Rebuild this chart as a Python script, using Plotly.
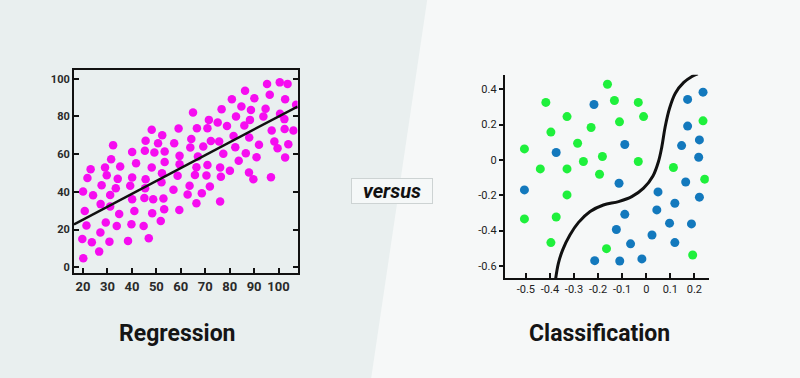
import plotly.graph_objects as go

# ---------------- data ----------------
reg_x = [20, 20.7, 19.7, 20.1, 21.4, 21.8, 23.1, 24.1, 23.6, 26.6, 27.1, 27.2, 27.6, 29, 29.7, 29.3,
         30.8, 31.1, 31.1, 31.5, 32.3, 33.4, 33.8, 34.2, 34.8, 35.2, 38.4, 39.3, 39.8, 40.1, 40.1,
         40.1, 41, 41.7, 44.8, 45.1, 45.4, 45.6, 45.3, 45.6, 46.9, 48.1, 48.1, 48.7, 48.3, 49.2,
         50.7, 51.8, 52.1, 52.3, 52.4, 52.9, 53.2, 53.4, 53.4, 57.3, 57, 58.7, 59.1, 59.5, 59.5,
         59.4, 62.8, 63.6, 63.9, 64.3, 65, 65.8, 66.4, 66.4, 66.6, 67, 68.6, 69.2, 70.5, 70.9,
         70.9, 71.5, 71.9, 72.3, 75.1, 75.7, 76.1, 76.1, 76.4, 76.7, 77.4, 78.9, 80.1, 80.9, 81.6,
         82.3, 82.6, 83.7, 84.8, 86, 86.3, 86.6, 87.9, 88, 88.3, 88.7, 89.7, 90.1, 91, 92, 93.8,
         94.7, 95.3, 96.4, 96.9, 97.2, 98.3, 99.6, 100.5, 100.6, 102.4, 102.7, 102.5, 102.7,
         103.7, 104, 106.1, 107.2]
reg_y = [40.2, 29.9, 15, 4.8, 22.1, 47.3, 52, 38.2, 13.3, 8.3, 18.4, 33.5, 43.5, 52.9, 48.8, 23.7,
         13.6, 32.2, 38.4, 57.3, 64.8, 41.9, 21.9, 46.9, 28.3, 53.5, 14, 43.2, 22.8, 61.1, 47.6,
         36.1, 29.9, 55.2, 21.9, 36.8, 41.9, 46.7, 61.8, 67.1, 15.4, 72.9, 52.9, 36.1, 28.7, 60.9,
         65.8, 24.6, 45.1, 49.9, 70.1, 36.5, 30.8, 55.8, 61.4, 65.8, 41.1, 48.5, 73.6, 59.1, 54.7,
         30.4, 38.6, 43.2, 63.5, 68.1, 82.1, 49, 34, 53.1, 73.8, 58.8, 39.3, 64.1, 48.7, 54.2,
         73.8, 78.2, 42.8, 67, 76.8, 66.7, 52.9, 34.9, 48, 83.9, 60.2, 75, 51.2, 89.2, 69.7,
         63.7, 80, 56.5, 85.3, 75.2, 93.6, 60.5, 50.3, 68.8, 78.2, 83.5, 46.7, 89.7, 58.4, 65, 80,
         84.1, 97.2, 91.5, 47.8, 72.6, 66.7, 63.2, 98.1, 81.4, 78.6, 89.2, 73.3, 58.2,
         97.3, 65.3, 72.6, 86.2]
reg_line_x = [16.3, 107.8]
reg_line_y = [22.8, 85.3]
reg_ticks_x = [20, 30, 40, 50, 60, 70, 80, 90, 100]
reg_ticks_y = [0, 20, 40, 60, 80, 100]

green_x = [-0.161, -0.417, -0.132, -0.033, -0.329, -0.011, -0.111, -0.229, -0.396, -0.506, -0.285,
           -0.182, -0.261, -0.033, -0.440, -0.329, -0.194, 0.113, 0.243, 0.236, -0.329, -0.506,
           -0.374, -0.396, -0.165, 0.193]
green_y = [0.428, 0.325, 0.336, 0.325, 0.245, 0.245, 0.215, 0.183, 0.157, 0.062, 0.094, 0.019,
           -0.009, -0.009, -0.051, -0.051, -0.081, -0.043, -0.109, 0.221, -0.198, -0.334, -0.323,
           -0.468, -0.502, -0.538]
blue_x = [-0.217, 0.236, 0.172, 0.172, 0.221, 0.147, -0.089, -0.374, 0.218, -0.113, 0.164, -0.506,
          0.049, 0.221, 0.119, 0.044, -0.089, 0.097, 0.188, -0.124, 0.024, -0.065, 0.119, -0.214,
          -0.110, -0.018]
blue_y = [0.313, 0.383, 0.342, 0.191, 0.113, 0.081, 0.087, 0.042, 0.015, -0.132, -0.125, -0.170,
          -0.181, -0.211, -0.245, -0.283, -0.308, -0.358, -0.362, -0.394, -0.425, -0.475, -0.468,
          -0.570, -0.572, -0.560]
boundary_x = [-0.376, -0.365, -0.347, -0.317, -0.282, -0.233, -0.178, -0.115, -0.060, -0.011,
              0.028, 0.051, 0.065, 0.079, 0.097, 0.121, 0.156, 0.190, 0.214]
boundary_y = [-0.670, -0.585, -0.509, -0.425, -0.355, -0.292, -0.255, -0.236, -0.208, -0.160,
              -0.091, -0.009, 0.075, 0.189, 0.292, 0.377, 0.438, 0.472, 0.487]
cls_ticks_x = [-0.5, -0.4, -0.3, -0.2, -0.1, 0, 0.1, 0.2]
cls_ticklabels_x = ["-0.5", "-0.4", "-0.3", "-0.2", "-0.1", "0", "0.1", "0.2"]
cls_ticks_y = [0.4, 0.2, 0, -0.2, -0.4, -0.6]
cls_ticklabels_y = ["0.4", "0.2", "0", "-0.2", "-0.4", "-0.6"]

# ---------------- figure ----------------
MAGENTA = "#f60cf0"
GREEN = "#1ff03c"
BLUE = "#1379bd"
NARROW = "Liberation Sans Narrow, Roboto, sans-serif"

fig = go.Figure()
fig.add_trace(go.Scatter(x=reg_x, y=reg_y, mode="markers",
                         marker=dict(color=MAGENTA, size=8.5, line=dict(width=0)),
                         xaxis="x", yaxis="y"))
fig.add_trace(go.Scatter(x=reg_line_x, y=reg_line_y, mode="lines",
                         line=dict(color="#111", width=2.5), xaxis="x", yaxis="y"))
fig.add_trace(go.Scatter(x=green_x, y=green_y, mode="markers",
                         marker=dict(color=GREEN, size=9, line=dict(width=0)),
                         xaxis="x2", yaxis="y2"))
fig.add_trace(go.Scatter(x=blue_x, y=blue_y, mode="markers",
                         marker=dict(color=BLUE, size=9, line=dict(width=0)),
                         xaxis="x2", yaxis="y2"))
fig.add_trace(go.Scatter(x=boundary_x, y=boundary_y, mode="lines",
                         line=dict(color="#111", width=3, shape="spline", smoothing=1.0),
                         xaxis="x2", yaxis="y2", cliponaxis=False))

fig.update_layout(
    width=800, height=378,
    margin=dict(l=0, r=0, t=0, b=0),
    paper_bgcolor="#f6f8f8",
    plot_bgcolor="rgba(0,0,0,0)",
    showlegend=False,
    xaxis=dict(domain=[0.0925, 0.372], range=[16.3, 107.8], tickvals=reg_ticks_x,
               showgrid=False, zeroline=False, showline=True, linecolor="#111", linewidth=2,
               mirror=True, ticks="inside", ticklen=5, tickwidth=1.5, tickcolor="#111",
               tickfont=dict(family=NARROW, size=13, color="#2a2a2a", weight="bold"), anchor="y"),
    yaxis=dict(domain=[0.277, 0.815], range=[-3.2, 104.7], tickvals=reg_ticks_y,
               showgrid=False, zeroline=False, showline=True, linecolor="#111", linewidth=2,
               mirror="ticks", ticks="inside", ticklen=5, tickwidth=1.5, tickcolor="#111",
               tickfont=dict(family=NARROW, size=11, color="#2a2a2a", weight="bold"), anchor="x"),
    xaxis2=dict(domain=[0.631, 0.886], range=[-0.5875, 0.26], tickvals=cls_ticks_x,
                ticktext=cls_ticklabels_x,
                showgrid=False, zeroline=False, showline=True, linecolor="#111", linewidth=2,
                ticks="inside", ticklen=5, tickwidth=1.5, tickcolor="#111",
                tickfont=dict(family=NARROW, size=11, color="#222"), anchor="y2"),
    yaxis2=dict(domain=[0.2646, 0.802], range=[-0.668, 0.481], tickvals=cls_ticks_y,
                ticktext=cls_ticklabels_y,
                showgrid=False, zeroline=False, showline=True, linecolor="#111", linewidth=2,
                ticks="outside", ticklen=4, tickwidth=1.5, tickcolor="#111",
                tickfont=dict(family=NARROW, size=11, color="#222"), anchor="x2"),
    shapes=[dict(type="path", xref="paper", yref="paper",
                 path="M 0,0 L 0.464,0 L 0.534,1 L 0,1 Z",
                 fillcolor="#e9efef", line=dict(width=0), layer="below")],
    annotations=[
        dict(text="<b>Regression</b>", x=177 / 800, y=1 - 333 / 378, xref="paper", yref="paper",
             showarrow=False, xanchor="center", yanchor="middle",
             font=dict(family="Roboto, sans-serif", size=23, color="#151515")),
        dict(text="<b>Classification</b>", x=599.5 / 800, y=1 - 333 / 378, xref="paper", yref="paper",
             showarrow=False, xanchor="center", yanchor="middle",
             font=dict(family="Roboto, sans-serif", size=23, color="#151515")),
        dict(text="<b><i>versus</i></b>", x=391.5 / 800, y=1 - 191 / 378, xref="paper", yref="paper",
             showarrow=False, xanchor="center", yanchor="middle", width=80, height=24,
             bgcolor="#f5f8f8", bordercolor="#cdd3d3", borderwidth=1, borderpad=0,
             font=dict(family="Roboto, sans-serif", size=20, color="#111")),
    ],
)

fig.write_html("out.html", config={"displayModeBar": False},
               post_script="document.body.style.margin='0';document.body.style.padding='0';"
                           "document.body.style.overflow='hidden';")
